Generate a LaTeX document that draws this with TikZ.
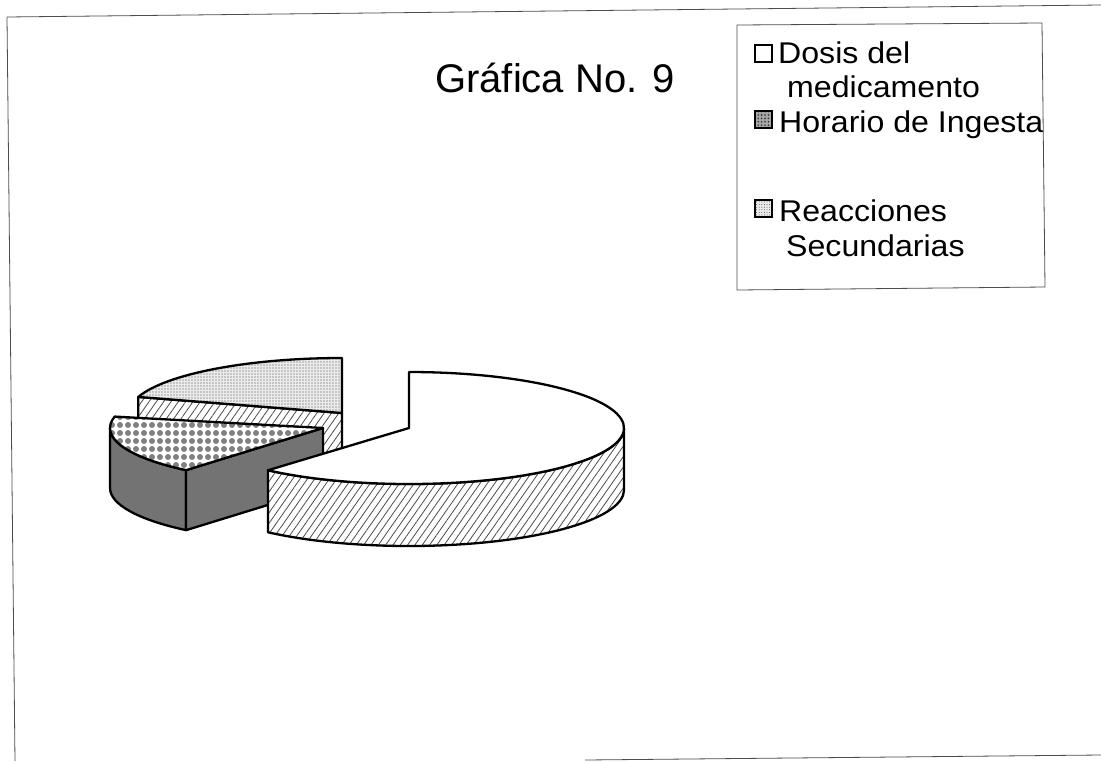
\documentclass[tikz,border=0pt]{standalone}
\usepackage{fontspec}
\setmainfont{Liberation Sans}
\usetikzlibrary{patterns.meta,calc}
\begin{document}
\begin{tikzpicture}[x=1pt,y=-1pt,
  outline/.style={draw=black,line width=2.3pt,line join=round},
  frameline/.style={draw=black!70,line width=0.8pt},
  plainface/.style={outline,fill=white},
  hatchface/.style={outline,preaction={fill=white},pattern={Lines[angle=55,distance=6pt,line width=0.8pt]},pattern color=black!70},
  dotface/.style={outline,preaction={fill=black!8},pattern={Dots[distance=3pt,radius=0.6pt]},pattern color=black!70},
  checkface/.style={outline,preaction={fill=white},pattern={Dots[distance=8pt,radius=3pt]},pattern color=black!50},
  darkface/.style={outline,fill=black!55},
  legtext/.style={anchor=base west,inner sep=0pt,font=\fontsize{30}{34}\selectfont},
  legmark/.style={line width=1.8pt,draw=black},
]
\useasboundingbox (0,0) rectangle (1101,761);
% page frame
\draw[frameline] (7,17) -- (1101,5);
\draw[frameline] (7,17) -- (15,761);
\draw[frameline] (585,760) -- (1101,755);
% title
\node[anchor=base west,inner sep=0pt,font=\fontsize{40}{48}\selectfont] (title) at (435,92) {Gráfica No. 9};
% legend box
\draw[frameline] (737,25) -- (1042,23) -- (1045,287) -- (737,290) -- cycle;
\draw[legmark,fill=white] (755,45) rectangle (772,62);
\draw[legmark,preaction={fill=black!35},pattern={Dots[distance=3.4pt,radius=0.9pt]},pattern color=black!80] (755,111) rectangle (772,128);
\draw[legmark,preaction={fill=black!8},pattern={Dots[distance=2.6pt,radius=0.5pt]},pattern color=black!70] (755,200) rectangle (772,217);
\node[legtext] (l1a) at (778,63) {\scalebox{1.07}[1]{Dosis del}};
\node[legtext] (l1b) at (787,97) {\scalebox{1.07}[1]{medicamento}};
\node[legtext] (l2) at (779,132) {\scalebox{1.07}[1]{Horario de Ingesta}};
\node[legtext] (l3a) at (779,221) {\scalebox{1.07}[1]{Reacciones}};
\node[legtext] (l3b) at (786,256) {\scalebox{1.07}[1]{Secundarias}};
% --- Reacciones Secundarias slice (back)
\coordinate (P) at (342,413);
\draw[hatchface] (P) -- ($(P)+(197:213 and 55)$) -- ++(0,62) -- ($(P)+(0,62)$) -- cycle;
\draw[dotface] (P) -- ($(P)+(270:213 and 55)$) arc[start angle=270,end angle=197,x radius=213,y radius=55] -- cycle;
% --- Horario de Ingesta slice (left)
\coordinate (D) at (323,428);
\draw[darkface] ($(D)+(130:213 and 55)$) arc[start angle=130,end angle=180,x radius=213,y radius=55] -- ++(0,60) arc[start angle=180,end angle=130,x radius=213,y radius=55] -- cycle;
\draw[darkface] (D) -- ($(D)+(130:213 and 55)$) -- ++(0,60) -- ($(D)+(0,60)$) -- cycle;
\draw[checkface] (D) -- ($(D)+(192:213 and 55)$) arc[start angle=192,end angle=130,x radius=213,y radius=55] -- cycle;
% --- Dosis del medicamento slice (exploded, right)
\coordinate (C) at (409,428);
\draw[hatchface] ($(C)+(0:215 and 56)$) arc[start angle=0,end angle=131,x radius=215,y radius=56] -- ++(0,62) arc[start angle=131,end angle=0,x radius=215,y radius=56] -- cycle;
\draw[plainface] (C) -- ($(C)+(131:215 and 56)$) arc[start angle=131,end angle=-90,x radius=215,y radius=56] -- cycle;
\end{tikzpicture}
\end{document}
